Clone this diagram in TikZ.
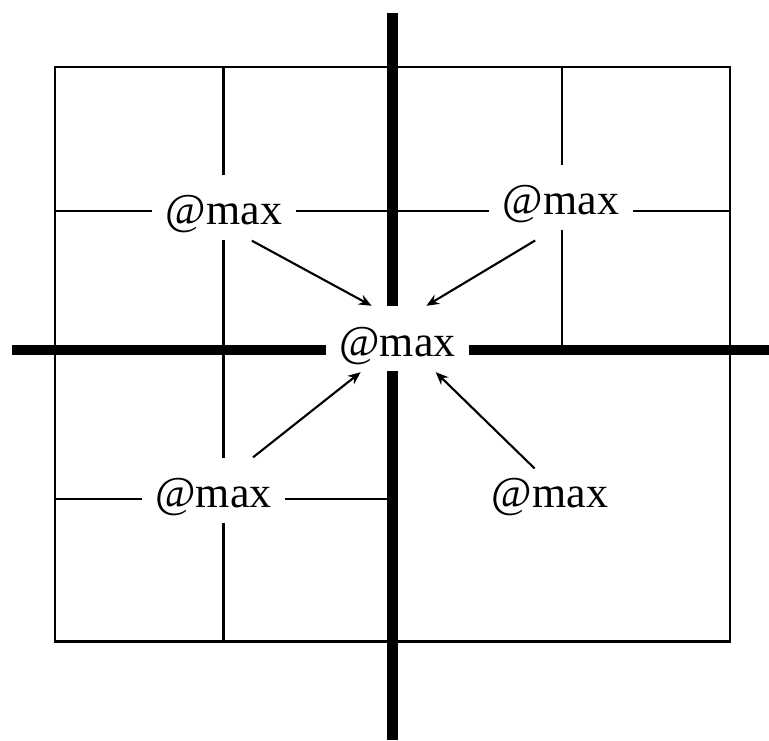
\documentclass[tikz,border=0pt]{standalone}
\usepackage{fontspec}
\setmainfont{Liberation Serif}
\usetikzlibrary{arrows.meta, positioning, calc}

\begin{document}
\begin{tikzpicture}[
  >={Stealth[length=3.6pt,width=3pt]},
  grid/.style={draw, line width=0.65pt},
  axis/.style={draw, line width=2.9pt},
  maxlab/.style={fill=white, font=\fontsize{12.5}{14}\selectfont, inner xsep=0.135cm, inner ysep=0.06cm, text height=0.44cm, text depth=0.09cm},
  pull/.style={->, line width=0.6pt}
  ]
  \useasboundingbox (0,0) rectangle (7.69,7.40);
  % outer box and cell splits
  \coordinate (SW) at (0.55,0.985);
  \coordinate (NE) at (7.30,6.73);
  \draw[grid] (SW) rectangle (NE);
  \draw[grid] (2.235,6.73) -- (2.235,0.985);
  \draw[grid] (5.62,6.73) -- (5.62,3.90);
  \draw[grid] (0.55,5.29) -- (7.30,5.29);
  \draw[grid] (0.55,2.41) -- (3.925,2.41);
  % main split
  \draw[axis] (3.925,7.27) -- (3.925,0);
  \draw[axis] (0.12,3.90) -- (7.69,3.90);
  % labels
  \node[maxlab] (tl) at (2.24,5.325) {@max};
  \node[maxlab] (tr) at (5.61,5.425) {@max};
  \node[maxlab] (c)  at (3.975,4.01) {@max};
  \node[maxlab] (bl) at (2.135,2.495) {@max};
  \node[maxlab] (br) at (5.50,2.495) {@max};
  % merge arrows
  \draw[pull] (tl.310.7) -- (c.128);
  \draw[pull, shorten <=0.19cm] (tr.254) -- (c.49);
  \draw[pull] (bl.40) -- (c.222);
  \draw[pull, shorten <=-0.16cm] (br.129) -- (c.319);
\end{tikzpicture}
\end{document}
